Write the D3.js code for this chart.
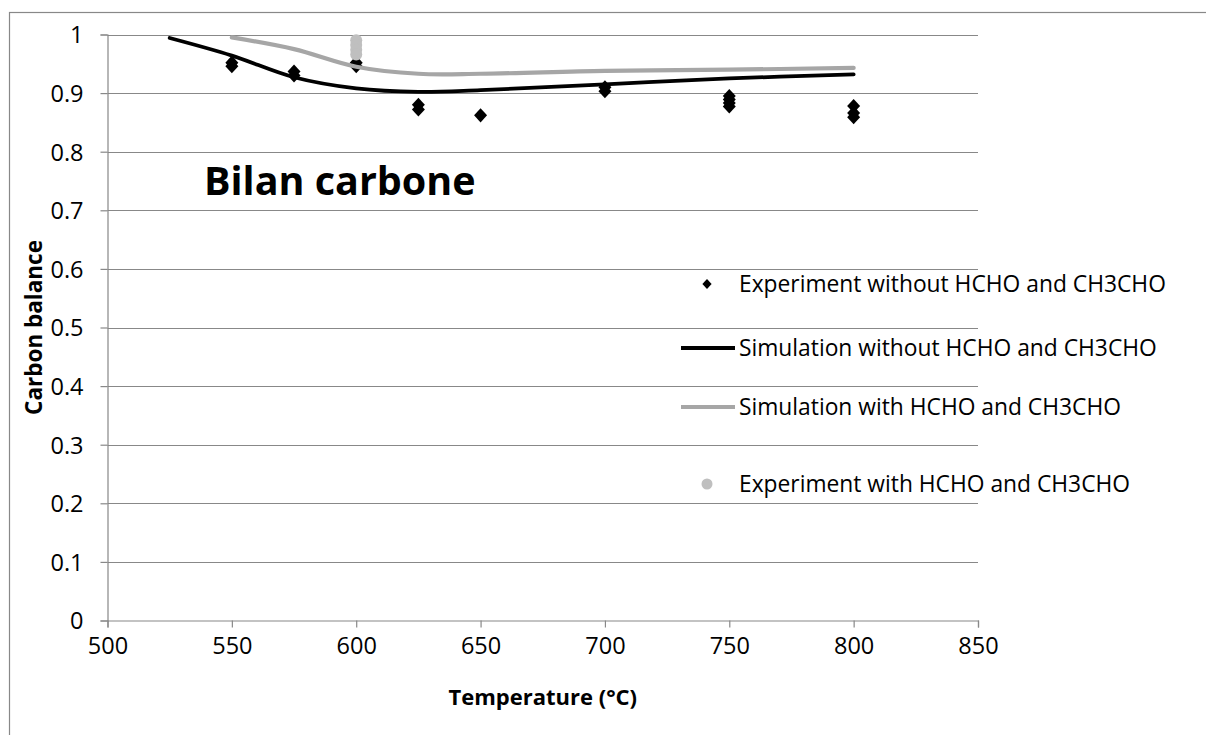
<!DOCTYPE html>
<html>
<head>
<meta charset="utf-8">
<script src="https://cdn.jsdelivr.net/npm/d3@7"></script>
<style>
  html, body { margin: 0; padding: 0; background: #fff; }
  svg { display: block; font-family: "Open Sans", "Noto Sans", sans-serif; }
</style>
</head>
<body>
<svg id="chart" width="1206" height="735"></svg>
<script>
// Measured points: carbon balance vs temperature
const expWithoutT   = [550, 550, 575, 575, 600, 600, 625, 625, 650, 700, 700, 750, 750, 750, 750, 800, 800, 800];
const expWithoutVal = [0.952, 0.946, 0.937, 0.930, 0.952, 0.946, 0.880, 0.872, 0.862, 0.910, 0.903, 0.895, 0.889, 0.883, 0.877, 0.878, 0.866, 0.859];

const expWithT   = [600, 600, 600, 600];
const expWithVal = [0.990, 0.982, 0.974, 0.966];

// Simulated curves
const simWithoutT   = [525, 550, 575, 600, 625, 650, 700, 750, 800];
const simWithoutVal = [0.994, 0.964, 0.927, 0.908, 0.902, 0.905, 0.915, 0.925, 0.932];

const simWithT   = [550, 575, 600, 625, 650, 700, 750, 800];
const simWithVal = [0.995, 0.975, 0.945, 0.933, 0.933, 0.938, 0.940, 0.943];

const xTicks = [500, 550, 600, 650, 700, 750, 800, 850];
const yTicks = [0, 0.1, 0.2, 0.3, 0.4, 0.5, 0.6, 0.7, 0.8, 0.9, 1];

const legendLabels = [
  "Experiment without HCHO and CH3CHO",
  "Simulation without HCHO and CH3CHO",
  "Simulation with HCHO and CH3CHO",
  "Experiment with HCHO and CH3CHO"
];

const gridColor = "#888888";
const svg = d3.select("#chart");

// Outer chart frame (extends past the right and bottom edges)
svg.append("rect")
  .attr("x", 9.5).attr("y", 12.5)
  .attr("width", 1220).attr("height", 740)
  .attr("fill", "none").attr("stroke", gridColor).attr("stroke-width", 1.2);

const x = d3.scaleLinear().domain([500, 850]).range([107.5, 978]);
const y = d3.scaleLinear().domain([0, 1]).range([620.5, 34.5]);

// Horizontal gridlines
svg.append("g").selectAll("line").data(yTicks.filter(d => d > 0)).join("line")
  .attr("x1", x(500)).attr("x2", x(850))
  .attr("y1", d => Math.round(y(d)) + 0.5).attr("y2", d => Math.round(y(d)) + 0.5)
  .attr("stroke", gridColor).attr("stroke-width", 1);

// Y axis
const yAxis = svg.append("g")
  .attr("transform", `translate(${x(500)},0)`)
  .call(d3.axisLeft(y).tickValues(yTicks).tickSize(7).tickPadding(17)
    .tickFormat(d => d === 0 ? "0" : d === 1 ? "1" : d3.format(".1f")(d)));
yAxis.select(".domain").attr("stroke", gridColor).attr("stroke-width", 1.2);
yAxis.selectAll(".tick line").attr("stroke", gridColor).attr("stroke-width", 1.2);
yAxis.selectAll(".tick text").attr("font-size", 23.5).attr("fill", "#000")
  .attr("font-family", "Open Sans").attr("dy", "0.36em");

// X axis
const xAxis = svg.append("g")
  .attr("transform", `translate(0,${y(0)})`)
  .call(d3.axisBottom(x).tickValues(xTicks).tickSize(7).tickPadding(10));
xAxis.select(".domain").attr("stroke", gridColor).attr("stroke-width", 1.2);
xAxis.selectAll(".tick line").attr("stroke", gridColor).attr("stroke-width", 1.2);
xAxis.selectAll(".tick text").attr("font-size", 23.5).attr("fill", "#000")
  .attr("font-family", "Open Sans");

// Axis titles
svg.append("text")
  .attr("x", (x(500) + x(850)) / 2).attr("y", 705)
  .attr("text-anchor", "middle").attr("font-size", 22).attr("font-weight", "bold")
  .text("Temperature (°C)");

svg.append("text")
  .attr("transform", `translate(42,${(y(0) + y(1)) / 2}) rotate(-90)`)
  .attr("text-anchor", "middle").attr("font-size", 22.5).attr("font-weight", "bold")
  .text("Carbon balance");

// Chart title inside the plot area
svg.append("text")
  .attr("x", 204).attr("y", 195)
  .attr("font-size", 39.5).attr("font-weight", "bold")
  .text("Bilan carbone");

// Series
const line = d3.line().x(d => x(d[0])).y(d => y(d[1])).curve(d3.curveCatmullRom.alpha(0.5));
const diamond = d3.symbol().type(d3.symbolDiamond).size(57);

svg.append("g").selectAll("path").data(d3.zip(expWithoutT, expWithoutVal)).join("path")
  .attr("d", diamond)
  .attr("transform", d => `translate(${x(d[0])},${y(d[1])}) scale(1.6,1)`)
  .attr("fill", "#000");

svg.append("path").datum(d3.zip(simWithoutT, simWithoutVal))
  .attr("d", line).attr("fill", "none").attr("stroke", "#000")
  .attr("stroke-width", 3.8).attr("stroke-linecap", "round").attr("stroke-linejoin", "round");

svg.append("path").datum(d3.zip(simWithT, simWithVal))
  .attr("d", line).attr("fill", "none").attr("stroke", "#a6a6a6")
  .attr("stroke-width", 4.2).attr("stroke-linecap", "round").attr("stroke-linejoin", "round");

svg.append("g").selectAll("circle").data(d3.zip(expWithT, expWithVal)).join("circle")
  .attr("cx", d => x(d[0])).attr("cy", d => y(d[1])).attr("r", 6)
  .attr("fill", "#bfbfbf");

// Legend
const legendRows = [284, 348, 407, 484];
const legend = svg.append("g");
legend.selectAll("text").data(legendLabels).join("text")
  .attr("x", 739).attr("y", (d, i) => legendRows[i]).attr("dy", "0.36em")
  .attr("font-size", 22.8).attr("fill", "#000")
  .text(d => d);

legend.append("path").attr("d", d3.symbol().type(d3.symbolDiamond).size(29))
  .attr("transform", `translate(707,${legendRows[0]}) scale(1.6,1)`).attr("fill", "#000");
legend.append("line").attr("x1", 681).attr("x2", 735)
  .attr("y1", legendRows[1]).attr("y2", legendRows[1])
  .attr("stroke", "#000").attr("stroke-width", 3.8);
legend.append("line").attr("x1", 681).attr("x2", 735)
  .attr("y1", legendRows[2]).attr("y2", legendRows[2])
  .attr("stroke", "#a6a6a6").attr("stroke-width", 4.2);
legend.append("circle").attr("cx", 707).attr("cy", legendRows[3]).attr("r", 5.5)
  .attr("fill", "#bfbfbf");
</script>
</body>
</html>
